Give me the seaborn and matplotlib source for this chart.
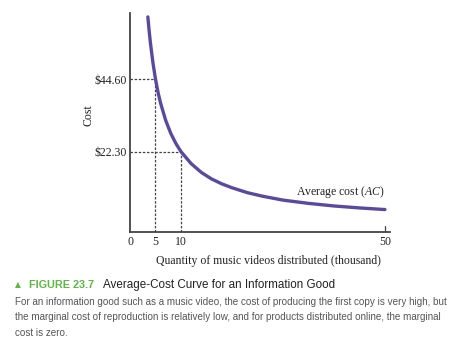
import matplotlib
matplotlib.use("Agg")
import matplotlib.pyplot as plt
import seaborn as sns
import pandas as pd

# Data
quantity = [3.5, 3.75, 4, 4.5, 5, 5.5, 6, 7, 8, 9, 10, 12, 14, 16, 18, 20, 23, 26, 30, 35, 40, 45, 50]
avg_cost = [63.7, 59.5, 55.8, 49.6, 44.6, 40.5, 37.2, 31.9, 27.9, 24.8, 22.3, 18.6, 15.9, 13.9,
            12.4, 11.2, 9.7, 8.6, 7.4, 6.4, 5.6, 5.0, 4.5]
guide_q = [5, 10]
guide_cost = [44.60, 22.30]
x_ticks = [0, 5, 10, 50]
y_tick_labels = ["$44.60", "$22.30"]

sns.set_theme(style="white")
plt.rcParams["font.family"] = ["Liberation Serif", "DejaVu Serif"]
plt.rcParams["mathtext.fontset"] = "custom"
plt.rcParams["mathtext.rm"] = "Liberation Serif"
plt.rcParams["mathtext.it"] = "Liberation Serif:italic"

fig = plt.figure(figsize=(4.7, 3.43), dpi=100)
ax = fig.add_axes([130 / 470, 1 - 232 / 343, 260 / 470, 219 / 343])

df = pd.DataFrame({"q": quantity, "cost": avg_cost})
sns.lineplot(data=df, x="q", y="cost", ax=ax, color="#5a4a9f", linewidth=2.4)

for q, c in zip(guide_q, guide_cost):
    ax.plot([0, q], [c, c], linestyle=(0, (2, 1.3)), color="#444444", linewidth=0.9, zorder=1)
    ax.plot([q, q], [-2.4, c], linestyle=(0, (2, 1.3)), color="#444444", linewidth=0.9, zorder=1)

ax.set_xlim(0, 51)
ax.set_ylim(-2.4, 64.9)
for s in ["top", "right"]:
    ax.spines[s].set_visible(False)
for s in ["left", "bottom"]:
    ax.spines[s].set_color("#444444")
    ax.spines[s].set_linewidth(1.3)

ax.set_xticks(x_ticks)
ax.set_xticklabels([str(t) for t in x_ticks], fontsize=8.5, color="#222222")
ax.set_yticks(guide_cost)
ax.set_yticklabels(y_tick_labels, fontsize=8.5, color="#222222")
ax.tick_params(axis="x", length=0, pad=3)
ax.tick_params(axis="y", length=0, pad=2)
ax.plot([50, 50], [-2.4, -0.6], color="#444444", linewidth=0.9)

ax.set_xlabel("")
ax.set_ylabel("")
fig.text(88 / 470, 1 - 115 / 343, "Cost", rotation=90, ha="center", va="center",
         fontsize=8.5, color="#222222")

ax.text(50, 9.9, "Average cost ($AC$)", ha="right", va="center",
        fontsize=8.5, color="#222222")

fig.text(268 / 470, 1 - 261 / 343, "Quantity of music videos distributed (thousand)",
         ha="center", va="center", fontsize=8.5, color="#222222")

sans = ["Liberation Sans", "DejaVu Sans"]
fig.text(15 / 470, 1 - 285 / 343, "▲", ha="left", va="center",
         fontsize=5.5, color="#5cb843", family=["DejaVu Sans"])
fig.text(29 / 470, 1 - 285 / 343, "FIGURE 23.7", ha="left", va="center",
         fontsize=7.8, color="#5cb843", family=sans, weight="bold")
fig.text(103 / 470, 1 - 285 / 343, "Average-Cost Curve for an Information Good",
         ha="left", va="center", fontsize=8.4, color="#222222", family=sans)
body = ["For an information good such as a music video, the cost of producing the first copy is very high, but",
        "the marginal cost of reproduction is relatively low, and for products distributed online, the marginal",
        "cost is zero."]
for i, line in enumerate(body):
    fig.text(15 / 470, 1 - (302 + 15.5 * i) / 343, line, ha="left", va="center",
             fontsize=7.15, color="#555555", family=sans)

fig.savefig("out.png", dpi=100)
